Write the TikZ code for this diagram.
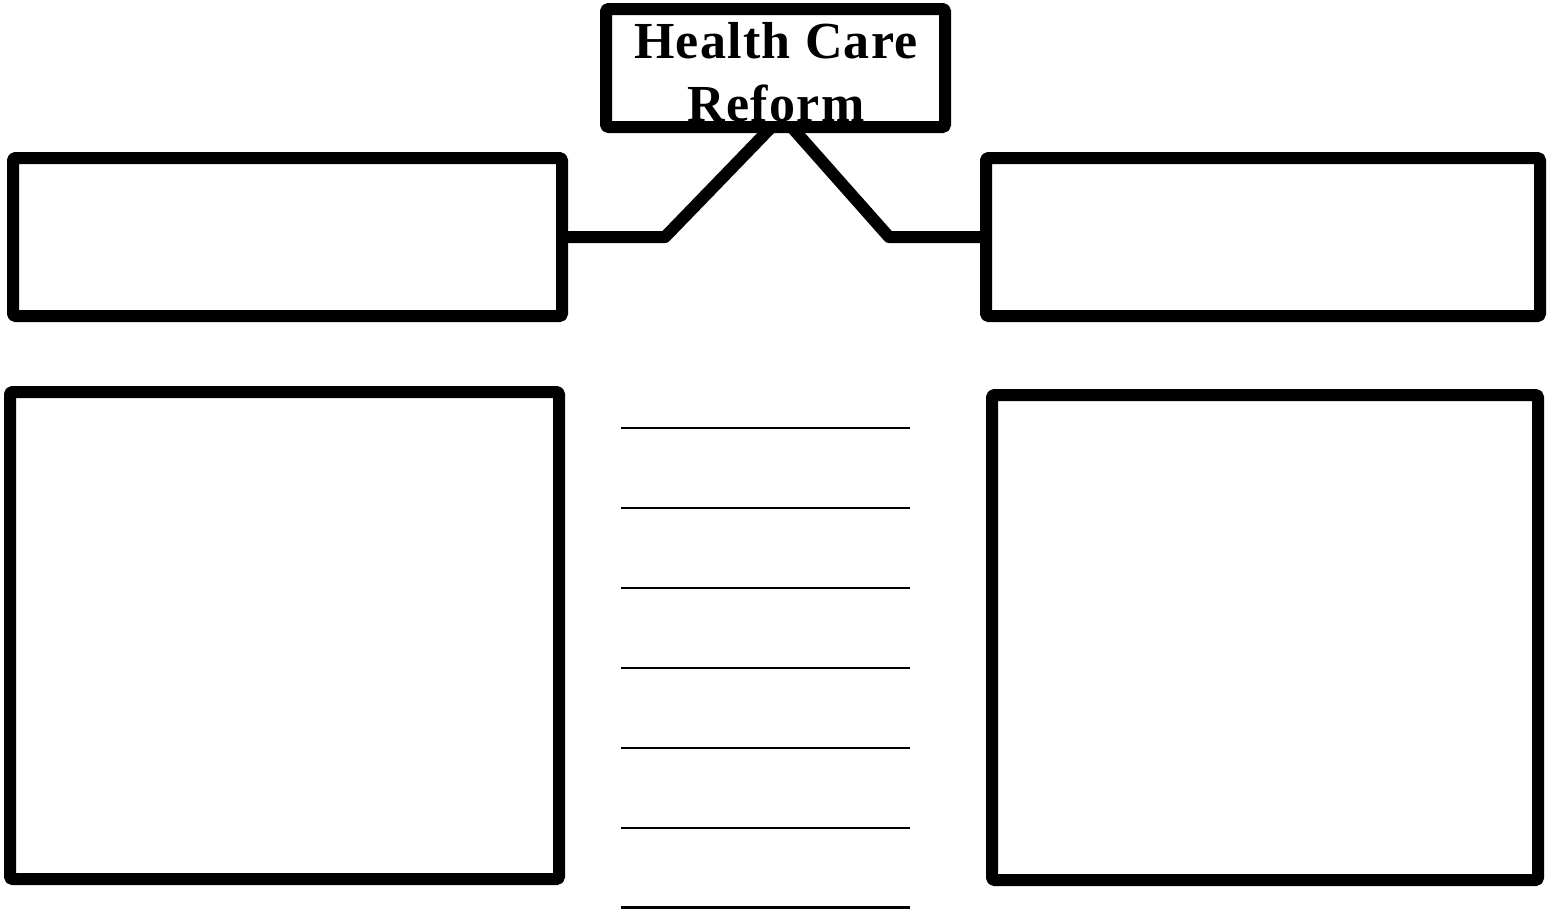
\documentclass[tikz,border=0pt]{standalone}
\usepackage{fontspec}
\setmainfont{Liberation Serif}
\begin{document}
\begin{tikzpicture}[x=1pt,y=-1pt,
  box/.style={draw=black,line width=12pt,line join=round,rounded corners=1.5pt,inner sep=0pt,outer sep=0pt,fill=none},
  conn/.style={draw=black,line width=12pt,line join=round,line cap=butt},
  rule/.style={draw=black,line width=2.5pt}]
\useasboundingbox (0,0) rectangle (1554,911);
\node[font=\fontsize{52}{63}\selectfont\bfseries\addfontfeature{LetterSpace=2.5},align=center,inner sep=0pt,anchor=base] (hcrtext) at (776,121) {Health Care\\Reform};
\node[box,minimum width=339pt,minimum height=118pt] (hcr) at (775.5,68) {};
\node[box,minimum width=549pt,minimum height=158pt] (lt) at (287.5,237) {};
\node[box,minimum width=554pt,minimum height=158pt] (rt) at (1263,237) {};
\node[box,minimum width=549pt,minimum height=487pt] (lb) at (284.5,635.5) {};
\node[box,minimum width=546pt,minimum height=485pt] (rb) at (1265,637.5) {};
\coordinate (la) at ([xshift=-4pt]hcr.south);
\coordinate (ra) at ([xshift=16pt]hcr.south);
\draw[conn] (la) -- (665,237) -- (lt.east);
\draw[conn] (ra) -- (889,237) -- (rt.west);
\foreach \i/\yy in {1/428,2/508,3/588,4/668,5/748,6/828,7/907.5}{
  \coordinate (rs\i) at (621,\yy);
  \coordinate (re\i) at (910,\yy);
  \draw[rule] (rs\i) -- (re\i);
}
\end{tikzpicture}
\end{document}
